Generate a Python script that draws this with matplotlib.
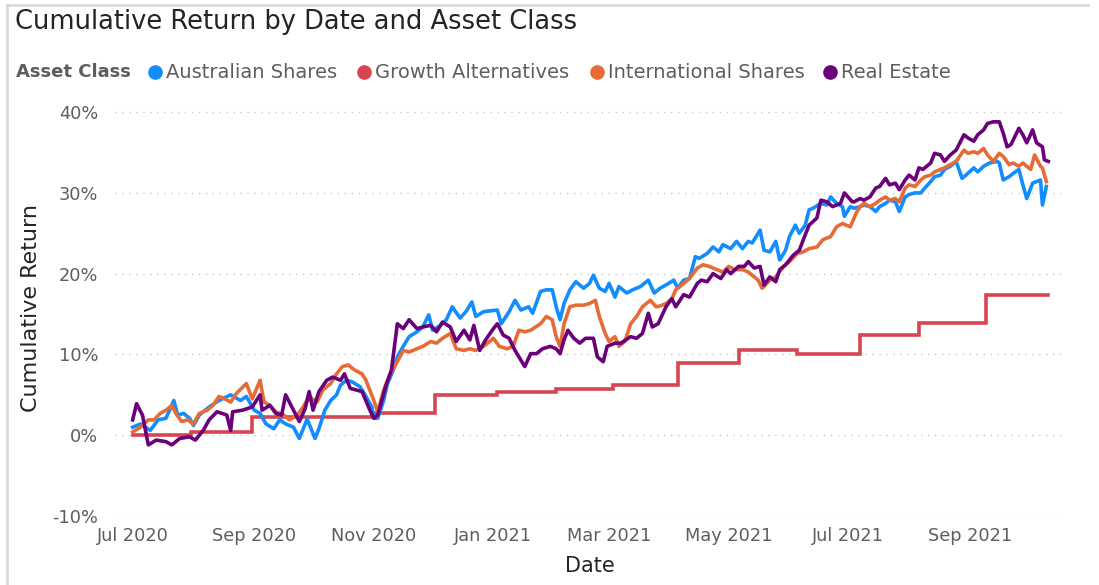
import numpy as np
import pandas as pd
import matplotlib
matplotlib.use("Agg")
import matplotlib.pyplot as plt
import matplotlib.dates as mdates
from matplotlib.ticker import FuncFormatter, FixedLocator
from matplotlib.lines import Line2D

START = pd.Timestamp("2020-07-01")

# days since 2020-07-01 and cumulative return (%)
au_days = [0, 4, 9, 13, 17, 21, 23, 26, 29, 31, 34, 39, 44, 50, 55, 58, 62, 65, 68, 72,
           75, 78, 82, 85, 89, 93, 95, 98, 101, 104, 106, 109, 112, 116, 119, 122, 123, 125,
           128, 130, 133, 135, 138, 141, 145, 148, 151, 153, 157, 160, 163, 167, 170, 173,
           175, 179, 186, 188, 192, 195, 198, 202, 204, 208, 211, 214, 216, 218, 220, 223,
           226, 230, 233, 235, 238, 241, 243, 246, 248, 252, 255, 259, 263, 266, 269, 272,
           276, 278, 281, 284, 287, 289, 293, 296, 299, 301, 305, 308, 311, 314, 316, 320,
           322, 325, 328, 330, 333, 335, 338, 340, 343, 345, 347, 351, 354, 356, 359, 362,
           363, 366, 368, 371, 373, 376, 379, 381, 384, 386, 389, 391, 394, 396, 399, 402,
           404, 407, 409, 412, 414, 417, 420, 423, 425, 429, 431, 434, 437, 441, 442, 444,
           447, 449, 452, 454, 456, 459, 461, 463, 464, 466]
au_vals = [1.0, 1.4, 0.6, 1.9, 2.1, 4.3, 2.5, 2.7, 2.1, 1.2, 2.5, 3.5, 4.3, 5.0, 4.3, 4.8,
           3.1, 2.7, 1.4, 0.8, 1.9, 1.4, 1.0, -0.4, 2.0, -0.4, 0.8, 3.1, 4.3, 5.0, 6.2, 6.8,
           6.6, 6.0, 4.8, 3.5, 2.1, 2.1, 4.3, 6.4, 8.1, 9.7, 11.0, 12.2, 12.8, 13.4, 14.9,
           13.0, 13.6, 14.3, 15.9, 14.5, 15.3, 16.5, 14.7, 15.3, 15.5, 13.8, 15.3, 16.7, 15.5,
           15.9, 15.1, 17.8, 18.0, 18.0, 15.9, 14.3, 16.3, 18.0, 19.0, 18.2, 18.8, 19.8, 18.2,
           17.8, 18.8, 17.1, 18.4, 17.6, 18.0, 18.4, 19.2, 17.6, 18.2, 18.6, 19.2, 18.2, 19.2,
           19.4, 22.1, 21.9, 22.5, 23.3, 22.7, 23.6, 23.1, 24.0, 23.1, 24.0, 23.8, 25.4, 22.9,
           22.7, 24.0, 21.7, 22.9, 24.6, 26.0, 25.0, 26.0, 27.9, 28.1, 28.7, 28.5, 29.5, 28.7,
           28.3, 27.1, 28.3, 28.1, 28.3, 28.5, 28.3, 27.7, 28.3, 28.7, 29.1, 28.9, 27.7, 29.5,
           29.8, 30.0, 30.0, 30.6, 31.4, 32.0, 32.2, 32.9, 33.3, 33.9, 31.8, 32.2, 33.1, 32.6,
           33.3, 33.7, 33.9, 33.7, 31.6, 32.0, 32.4, 32.9, 31.0, 29.3, 31.2, 31.4, 31.6, 28.5,
           30.8]

intl_days = [0, 4, 8, 11, 14, 17, 20, 22, 25, 28, 31, 34, 38, 41, 44, 47, 50, 53, 58, 61,
             65, 67, 70, 73, 77, 80, 84, 87, 90, 94, 97, 101, 104, 107, 110, 113, 117, 119,
             123, 125, 128, 131, 135, 138, 141, 145, 148, 152, 155, 158, 162, 165, 169, 172,
             175, 179, 184, 187, 191, 194, 197, 200, 203, 208, 211, 214, 216, 218, 220, 223,
             226, 230, 233, 236, 238, 241, 243, 246, 248, 251, 254, 257, 260, 264, 267, 269,
             272, 275, 277, 281, 284, 288, 291, 294, 298, 301, 304, 307, 311, 314, 316, 319,
             321, 322, 325, 328, 332, 335, 339, 342, 345, 349, 352, 356, 359, 362, 366, 369,
             371, 373, 376, 379, 381, 384, 386, 389, 391, 394, 396, 399, 402, 404, 407, 409,
             412, 414, 417, 420, 424, 426, 429, 431, 434, 436, 439, 442, 444, 447, 449, 452,
             454, 458, 460, 463, 464, 466]
intl_vals = [0.4, 1.0, 1.9, 1.9, 2.7, 3.1, 3.7, 2.7, 1.7, 1.9, 1.4, 2.7, 3.1, 3.7, 4.8, 4.5,
             4.1, 5.2, 6.4, 4.5, 6.8, 4.1, 3.7, 2.9, 2.5, 1.9, 2.5, 3.5, 4.8, 4.1, 5.6, 6.4,
             7.6, 8.5, 8.7, 8.1, 7.6, 6.8, 4.3, 2.9, 5.6, 7.4, 9.1, 10.5, 10.3, 10.7, 11.0,
             11.6, 11.4, 12.0, 12.6, 10.7, 10.5, 10.7, 10.5, 11.0, 12.0, 11.0, 10.7, 11.0,
             13.0, 12.8, 13.0, 13.8, 14.7, 14.3, 12.2, 11.0, 13.8, 15.9, 16.1, 16.1, 16.3,
             16.7, 14.7, 12.6, 11.6, 12.2, 11.0, 11.6, 13.8, 14.7, 15.9, 16.7, 15.9, 16.0,
             16.3, 16.9, 18.0, 18.8, 19.4, 20.7, 21.1, 20.9, 20.5, 20.2, 20.9, 20.5, 20.5,
             20.2, 19.8, 19.2, 18.2, 18.4, 19.2, 19.6, 20.9, 21.5, 22.5, 22.7, 23.1, 23.3,
             24.2, 24.6, 25.8, 26.2, 25.8, 27.5, 28.3, 28.7, 28.3, 28.7, 29.1, 29.5, 29.1,
             29.3, 28.9, 30.6, 31.0, 30.8, 31.6, 32.0, 32.2, 32.6, 32.9, 33.1, 33.5, 33.9,
             35.3, 34.9, 35.1, 34.9, 35.5, 34.7, 33.9, 34.9, 34.5, 33.5, 33.7, 33.3, 33.7,
             32.9, 34.7, 33.3, 33.1, 31.4]

re_days = [0, 2, 5, 8, 12, 17, 20, 24, 29, 32, 36, 39, 43, 48, 50, 51, 56, 61, 65, 66, 70,
           73, 76, 78, 82, 85, 88, 90, 92, 95, 99, 102, 106, 108, 111, 114, 117, 121, 123,
           125, 129, 132, 135, 138, 141, 145, 148, 152, 155, 158, 162, 165, 169, 172, 174,
           177, 180, 184, 186, 189, 192, 195, 197, 200, 203, 206, 209, 213, 216, 218, 220,
           222, 225, 228, 231, 235, 237, 240, 242, 246, 249, 254, 257, 260, 263, 265, 268,
           272, 275, 277, 281, 284, 288, 290, 293, 296, 300, 303, 305, 309, 312, 314, 317,
           320, 322, 325, 328, 330, 333, 337, 340, 343, 345, 349, 351, 354, 357, 361, 363,
           367, 368, 371, 373, 376, 379, 381, 384, 386, 389, 391, 394, 396, 399, 401, 403,
           407, 409, 412, 414, 417, 420, 424, 426, 429, 431, 434, 436, 439, 442, 444, 446,
           448, 452, 454, 456, 459, 461, 464, 465, 467]
re_vals = [1.9, 3.9, 2.5, -1.2, -0.6, -0.8, -1.2, -0.4, -0.2, -0.6, 0.6, 1.9, 2.9, 2.5, 0.6,
           2.9, 3.1, 3.5, 5.0, 3.1, 3.7, 2.7, 2.5, 5.0, 3.1, 1.7, 3.3, 5.4, 3.1, 5.4, 6.8,
           7.2, 6.8, 7.6, 5.8, 5.6, 5.4, 3.1, 2.1, 2.5, 6.0, 8.1, 13.8, 13.2, 14.3, 13.2,
           13.4, 13.6, 12.8, 14.0, 13.4, 11.6, 13.0, 11.8, 13.6, 10.5, 11.8, 13.2, 13.8, 12.4,
           12.0, 10.5, 9.7, 8.5, 10.1, 10.1, 10.7, 11.0, 10.7, 10.1, 11.8, 13.0, 12.0, 11.4,
           12.0, 12.0, 9.7, 9.1, 11.0, 11.4, 11.4, 12.2, 12.0, 12.6, 15.1, 13.4, 13.8, 15.9,
           16.9, 15.9, 17.4, 17.1, 18.8, 19.2, 19.0, 20.0, 19.4, 20.5, 20.0, 20.9, 20.9, 21.5,
           20.7, 20.9, 18.6, 19.6, 19.0, 20.5, 21.1, 22.3, 22.9, 24.8, 26.0, 26.9, 29.1, 28.9,
           28.3, 28.7, 30.0, 28.9, 28.9, 29.3, 29.1, 29.5, 30.6, 30.8, 31.8, 31.0, 31.2, 30.4,
           31.6, 32.2, 31.6, 33.1, 32.9, 33.7, 34.9, 34.7, 33.9, 34.7, 35.3, 37.2, 36.8, 36.4,
           37.2, 37.8, 38.6, 38.8, 38.8, 37.4, 35.7, 36.0, 38.0, 37.2, 36.2, 37.8, 36.2, 35.7,
           34.1, 33.9]

# growth alternatives moves in monthly steps
ga_days = [0, 30, 61, 122, 154, 186, 216, 245, 278, 309, 339, 371, 401, 435, 467]
ga_vals = [0.0, 0.4, 2.2, 2.7, 5.0, 5.3, 5.7, 6.2, 8.9, 10.5, 10.1, 12.4, 13.9, 17.4, 17.4]

series = ["Australian Shares", "Growth Alternatives", "International Shares", "Real Estate"]
colors = ["#118DFF", "#D64550", "#E66C37", "#6B007B"]
y_ticks = [-10, 0, 10, 20, 30, 40]


def to_dates(days):
    return START + pd.to_timedelta(days, unit="D")


W, H = 1099, 585
fig = plt.figure(figsize=(W / 100, H / 100), dpi=100)
ax = fig.add_axes([115 / W, 1 - 516 / H, (1064 - 115) / W, (516 - 100) / H])

lw = 2.6
ax.plot(to_dates(ga_days), ga_vals, color=colors[1], lw=lw, drawstyle="steps-post",
        solid_joinstyle="miter")
ax.plot(to_dates(au_days), au_vals, color=colors[0], lw=lw)
ax.plot(to_dates(intl_days), intl_vals, color=colors[2], lw=lw)
ax.plot(to_dates(re_days), re_vals, color=colors[3], lw=lw)

ax.set_xlim(START - pd.Timedelta(days=9), START + pd.Timedelta(days=475))
ax.set_ylim(-10, 41.5)
ax.yaxis.set_major_locator(FixedLocator(y_ticks))
ax.yaxis.set_major_formatter(FuncFormatter(lambda v, p: f"{v:.0f}%"))
ax.xaxis.set_major_locator(mdates.MonthLocator(bymonth=[1, 3, 5, 7, 9, 11]))
ax.xaxis.set_major_formatter(mdates.DateFormatter("%b %Y"))

tick_col = "#605E5C"
ax.tick_params(axis="both", length=0, labelsize=12.8, labelcolor=tick_col)
ax.tick_params(axis="y", pad=12)
ax.tick_params(axis="x", pad=8)
for s in ax.spines.values():
    s.set_visible(False)
ax.grid(axis="y", color="#C8C8C8", linestyle=(0, (1, 4)), linewidth=1.0)
ax.set_axisbelow(True)

ax.set_xlabel("Date", fontsize=15, color="#252423", labelpad=8)
ax.set_ylabel("Cumulative Return", fontsize=16, color="#252423", labelpad=8)

# title
fig.text(15 / W, 1 - 22 / H, "Cumulative Return by Date and Asset Class",
         fontsize=18.5, color="#252423", va="center", ha="left")

# legend row
ly = 1 - 72 / H
fig.text(16 / W, ly, "Asset Class", fontsize=13, fontweight="bold", color=tick_col,
         va="center", ha="left")
dot_x = [155, 364, 597, 830]
for name, c, dx in zip(series, colors, dot_x):
    fig.add_artist(Line2D([dx / W], [ly], marker="o", markersize=9.5, color=c,
                          transform=fig.transFigure, linestyle="none"))
    fig.text((dx + 11) / W, ly, name, fontsize=14, color=tick_col, va="center", ha="left")

# visual border
fig.add_artist(Line2D([7 / W, 1088 / W], [1 - 5 / H, 1 - 5 / H], color="#DADADA", lw=2,
                      transform=fig.transFigure))
fig.add_artist(Line2D([7 / W, 7 / W], [0, 1 - 5 / H], color="#DADADA", lw=2,
                      transform=fig.transFigure))

fig.savefig("out.png", dpi=100, facecolor="white")
